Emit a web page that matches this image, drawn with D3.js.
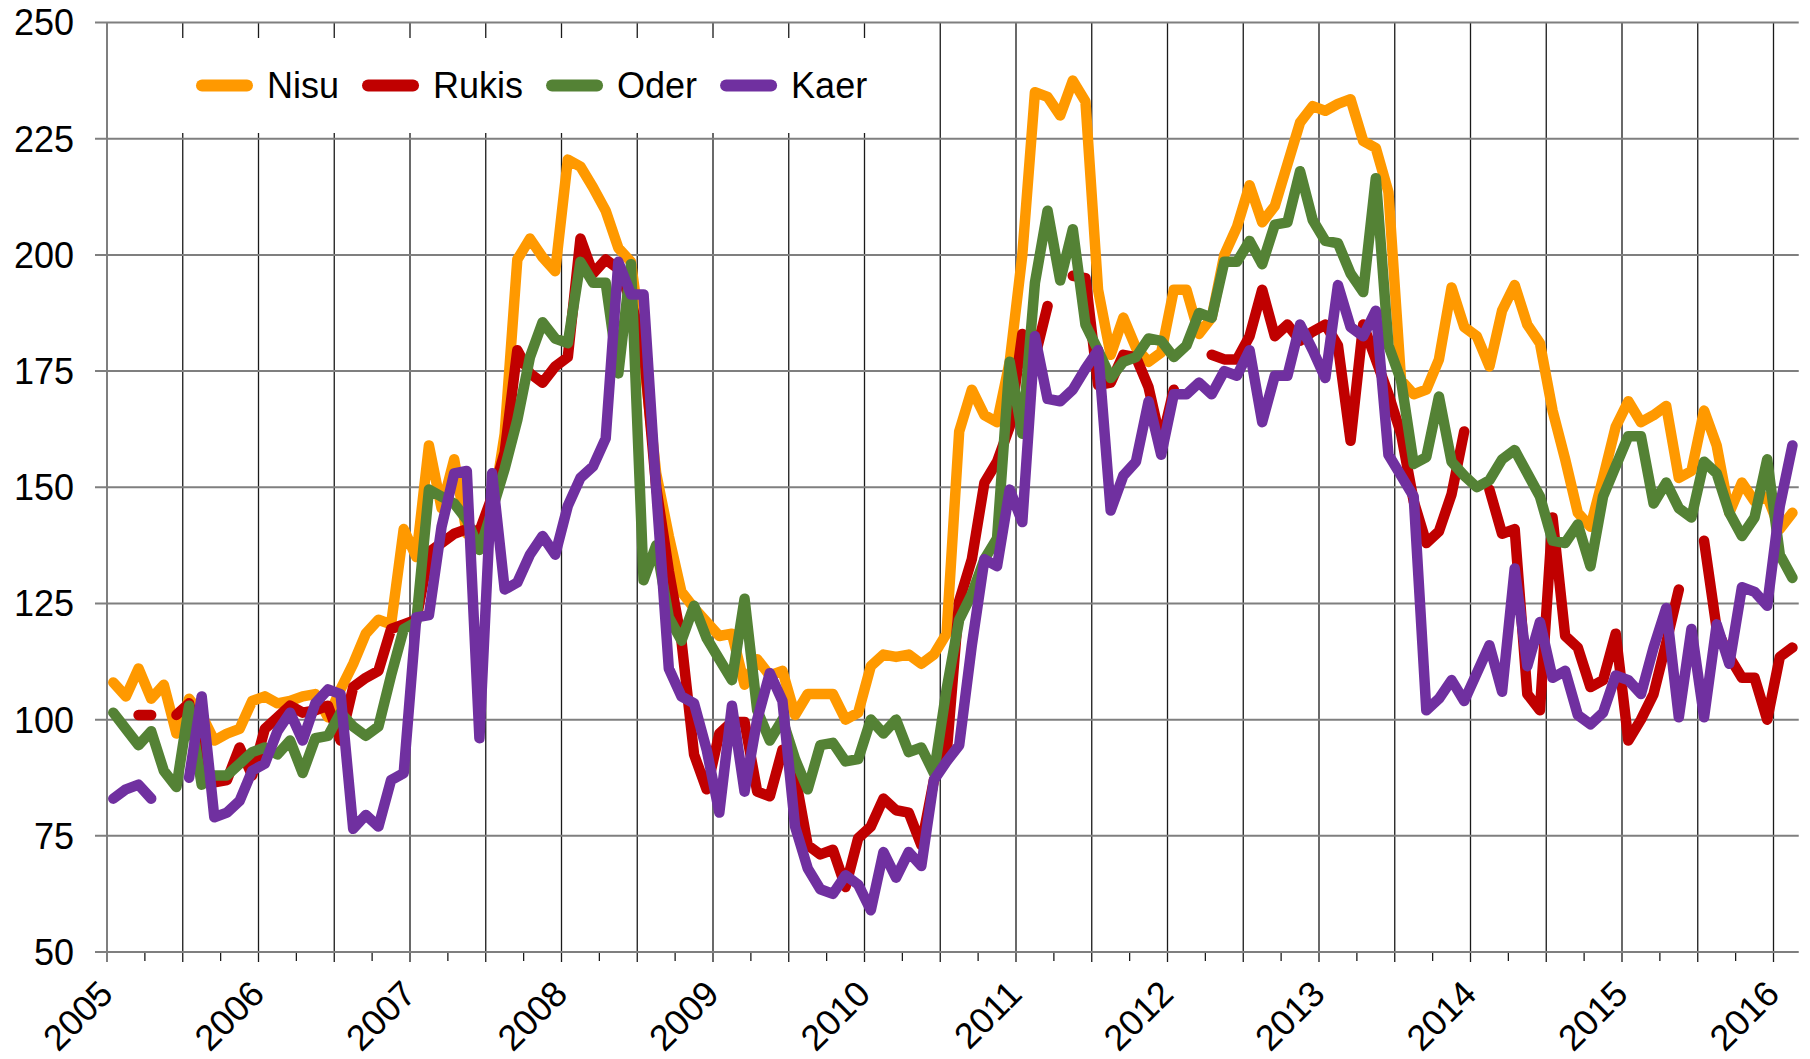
<!DOCTYPE html>
<html>
<head>
<meta charset="utf-8">
<script src="https://cdnjs.cloudflare.com/ajax/libs/d3/7.8.5/d3.min.js"></script>
<style>
  body { margin: 0; background: #fff; }
  text { font-family: "Liberation Sans", Arial, sans-serif; fill: #000; }
</style>
</head>
<body>
<div id="chart"></div>
<script>
// monthly series, Jan 2005 .. Feb 2016 (null = no value)
let yearLabels = ["2005", "2006", "2007", "2008", "2009", "2010", "2011", "2012", "2013", "2014", "2015", "2016"];
let yTicks = [50, 75, 100, 125, 150, 175, 200, 225, 250];
let seriesNames = ["Nisu", "Rukis", "Oder", "Kaer"];

let nisu = [
  108, 105, 111, 104.5, 107.5, 97, 104.5, 101, 95.5, 97, 98, 104,
  105, 103.5, 104, 105, 105.5, 100.5, 106.5, 112, 118.5, 121.5, 120.5, 141,
  135, 159, 145.5, 156, 140, 139, 144, 161.5, 199, 203.5, 199.5, 196.5,
  220.5, 219, 214.5, 209.5, 201.5, 198.5, 178, 153, 139.5, 127.5, 124, 121,
  118, 118.5, 107.5, 113, 109.5, 110.5, 101, 105.5, 105.5, 105.5, 100, 101.5,
  111.5, 114, 113.5, 114, 112, 114, 118.5, 162, 171, 165.5, 164, 177,
  200, 235, 234, 230, 237.5, 233, 192.5, 178.5, 186.5, 180, 177, 179,
  192.5, 192.5, 183, 186.5, 200, 206, 215, 207, 210.5, 219.5, 228.5, 232,
  231, 232.5, 233.5, 224.5, 223, 213.5, 173, 170, 171, 177.5, 193, 184.5,
  182.5, 176, 188, 193.5, 185, 181, 166.5, 156, 144.5, 141.5, 152, 163,
  168.5, 164, 165.5, 167.5, 152, 153.5, 166.5, 159, 144.5, 151, 147, 148,
  141, 144.5
];

let rukis = [
  null, null, 101, 101, null, 101, 103.5, 92, 86.5, 87, 94, 88,
  98, 100.5, 103, 101.5, 102, 103, 95.5, 107, 109, 110.5, 119.5, 120.5,
  121.5, 136, 138, 140, 141, 140.5, 148, 157.5, 179.5, 174.5, 172.5, 176,
  178, 203.5, 196, 199, 197, 190, 180, 150, 132, 117, 92.5, 85,
  97, 99.5, 99.5, 84.5, 83.5, 93.5, 88, 73, 71, 72, 64, 74.5,
  77, 83, 80.5, 80, 73, 87, 92.5, 125.5, 134.5, 151, 155.5, 163,
  183, 178, 189, null, 195.5, 195, 172, 172.5, 178.5, 178, 171.5, 159.5,
  171, null, null, 178.5, 177.5, 177.5, 182.5, 192.5, 182.5, 185, 181.5, 183.5,
  185, 180.5, 160, 185, 177.5, 170, 161.5, 147, 138, 140.5, 148.5, 162,
  null, 149.5, 140, 141, 105.5, 102, 143.5, 118, 115.5, 107, 108.5, 118.5,
  95.5, 100, 105.5, 116.5, 128, null, 138.5, 119.5, 113.5, 109, 109, 100,
  113.5, 115.5
];

let oder = [
  101.5, 98, 94.5, 97.5, 89, 85.5, 103, 86, 88, 88, 90.5, 93,
  94, 92.5, 95.5, 88.5, 96, 96.5, 101.5, 98.5, 96.5, 98.5, 109.5, 119.5,
  121, 149.5, 148, 146.5, 143, 136.5, 145, 154, 164.5, 178, 185.5, 182,
  181, 198.5, 194, 194, 174.5, 198, 130, 137.5, 122, 117, 124.5, 117.5,
  113, 108.5, 126, 102, 95.5, 100, 91.5, 85, 94.5, 95, 91, 91.5,
  100, 97, 100, 93, 94, 88.5, 106.5, 121.5, 127, 134.5, 139, 177,
  161.5, 194, 209.5, 194.5, 205.5, 185, 179.5, 173.5, 177, 178, 182, 181.5,
  178, 180.5, 187.5, 186.5, 198.5, 198.5, 203, 198, 206.5, 207, 218, 207.5,
  203, 202.5, 196, 192, 216.5, 180.5, 173, 155, 156.5, 169.5, 155.5, 152.5,
  150, 151.5, 156, 158, 153, 148, 138.5, 138, 142, 133, 148, 154.5,
  161, 161, 146.5, 151, 145.5, 143.5, 155.5, 153, 144.5, 139.5, 143.5, 156,
  135.5, 130.5
];

let kaer = [
  83, 85, 86, 83, null, null, 87.5, 105, 79, 80, 82.5, 89,
  90.5, 97.5, 101.5, 95.5, 103.5, 106.5, 105.5, 76.5, 79.5, 77, 87, 88.5,
  122, 122.5, 141.5, 153, 153.5, 96, 153, 128, 129.5, 135.5, 139.5, 135.5,
  146, 152, 154.5, 160.5, 198.5, 191.5, 191.5, 149.5, 111, 105, 103.5, 93.5,
  80, 103, 84.5, 100, 110, 104, 77, 68, 63.5, 62.5, 66.5, 64.5,
  59, 71.5, 66, 71.5, 68.5, 87, 91, 94.5, 116, 134.5, 133, 149.5,
  142.5, 182.5, 169, 168.5, 171, 175.5, 179.5, 145, 152.5, 155.5, 168.5, 157,
  170, 170, 172.5, 170, 175, 174, 179.5, 164, 174, 174, 185, 179.5,
  173.5, 193.5, 184.5, 182.5, 188, 157, 152.5, 148, 102, 104.5, 108.5, 104,
  110, 116, 106, 132.5, 111.5, 121, 109, 110.5, 101, 99, 101.5, 109.5,
  108.5, 105.5, 115.5, 124, 100.5, 119.5, 100.5, 120.5, 112, 128.5, 127.5, 124.5,
  146, 159
];

let seriesColors = ["#ff9900", "#c00000", "#548235", "#7030a0"];

/********************************************/

let svgWidth = 1810;
let svgHeight = 1059;

let svg = d3
  .select("#chart")
  .append("svg")
  .attr("width", svgWidth)
  .attr("height", svgHeight);

// x runs over month slots, each point sits in the middle of its month
let monthCount = 134;
let xScale = d3.scaleLinear().domain([0, monthCount]).range([107, 1798.75]);
let yScale = d3.scaleLinear().domain([50, 250]).range([952, 22.5]);

let gridGroup = svg.append("g");

// vertical lines every half year, small ticks every quarter
d3.range(0, monthCount, 3).forEach(function (m) {
  let half = m % 6 === 0;
  gridGroup
    .append("line")
    .attr("x1", xScale(m))
    .attr("x2", xScale(m))
    .attr("y1", half ? yScale(250) : yScale(50))
    .attr("y2", yScale(50) + (half ? 10 : 9))
    .attr("stroke", m === 0 ? "#7f7f7f" : "#1a1a1a")
    .attr("stroke-width", m === 0 ? 2 : 1.3);
});

// horizontal gridlines with their tick stubs
gridGroup
  .selectAll(".hgrid")
  .data(yTicks)
  .enter()
  .append("line")
  .attr("class", "hgrid")
  .attr("x1", 95)
  .attr("x2", xScale(monthCount))
  .attr("y1", (d) => yScale(d))
  .attr("y2", (d) => yScale(d))
  .attr("stroke", "#7f7f7f")
  .attr("stroke-width", 2);

svg
  .append("g")
  .selectAll("text")
  .data(yTicks)
  .enter()
  .append("text")
  .attr("x", 74)
  .attr("y", (d) => yScale(d))
  .attr("dy", "0.36em")
  .attr("text-anchor", "end")
  .style("font-size", "36px")
  .text((d) => d);

svg
  .append("g")
  .selectAll("text")
  .data(yearLabels)
  .enter()
  .append("text")
  .attr("text-anchor", "end")
  .attr("transform", (d, i) => `translate(${xScale(i * 12) + 8}, 996) rotate(-45)`)
  .style("font-size", "36px")
  .text((d) => d);

/********************************************/

let lineGen = d3
  .line()
  .defined((d) => d !== null)
  .x((d, i) => xScale(i + 0.5))
  .y((d) => yScale(d));

let allSeries = [nisu, rukis, oder, kaer];

svg
  .append("g")
  .selectAll("path")
  .data(allSeries)
  .enter()
  .append("path")
  .attr("d", lineGen)
  .attr("fill", "none")
  .attr("stroke", (d, i) => seriesColors[i])
  .attr("stroke-width", 10.5)
  .attr("stroke-linejoin", "round")
  .attr("stroke-linecap", "round");

/********************************************/

// legend sits on a white box that hides the grid behind it
let legend = svg.append("g");
legend
  .append("rect")
  .attr("x", 175)
  .attr("y", 38)
  .attr("width", 710)
  .attr("height", 95)
  .attr("fill", "#fff");

let legendX = 196;
seriesNames.forEach(function (name, i) {
  legend
    .append("line")
    .attr("x1", legendX + 6)
    .attr("x2", legendX + 51)
    .attr("y1", 85.5)
    .attr("y2", 85.5)
    .attr("stroke", seriesColors[i])
    .attr("stroke-width", 12)
    .attr("stroke-linecap", "round");

  let label = legend
    .append("text")
    .attr("x", legendX + 71)
    .attr("y", 98)
    .style("font-size", "36px")
    .text(name);

  legendX += 71 + label.node().getComputedTextLength() + 23;
});
</script>
</body>
</html>
